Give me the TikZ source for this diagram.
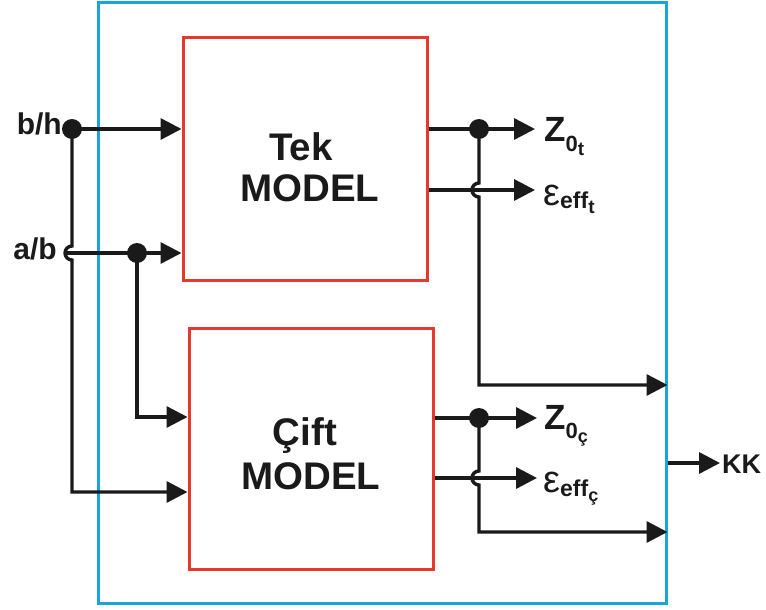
\documentclass[tikz,border=0pt]{standalone}
\usepackage{fontspec}
\setmainfont{Liberation Sans}
\usetikzlibrary{arrows.meta}
\definecolor{boxred}{HTML}{E4392C}
\definecolor{boxblue}{HTML}{1BA3DA}
\definecolor{ink}{HTML}{1A1A1A}
\begin{document}
\begin{tikzpicture}[x=1pt,y=-1pt,
  wire/.style={draw=ink,line width=3.4pt},
  arr/.style={wire,-{Triangle[length=21pt,width=21pt]}},
  dot/.style={circle,fill=ink,minimum size=20pt,inner sep=0pt},
  redbox/.style={draw=boxred,line width=3pt,inner sep=0pt},
  bluebox/.style={draw=boxblue,line width=3pt,inner sep=0pt},
  lab/.style={inner sep=0pt,font=\bfseries,text=ink},
  big/.style={lab,font=\fontsize{38.5}{38.5}\selectfont\bfseries}]
\useasboundingbox (0,0) rectangle (766,610);
% frames
\node[bluebox,minimum width=568pt,minimum height=600pt] (blue) at (382,303) {};
\node[redbox,minimum width=244pt,minimum height=242pt] (tek) at (305,159) {};
\node[redbox,minimum width=244pt,minimum height=241pt] (cift) at (311,448.5) {};
% box texts
\node[big,anchor=base] (tek1) at (301,160) {Tek};
\node[big,anchor=base] (tek2) at (310,201) {MODEL};
\node[big,anchor=base] (cift1) at (305,445) {Çift};
\node[big,anchor=base] (cift2) at (311,489) {MODEL};
% input labels
\node[lab,anchor=base east,font=\fontsize{30}{30}\selectfont\bfseries] (bh) at (62,134) {b/h};
\node[lab,anchor=base east,font=\fontsize{30}{30}\selectfont\bfseries] (ab) at (57,259) {a/b};
% dots
\node[dot] (d1) at (72,129) {};
\node[dot] (d2) at (137,253) {};
\node[dot] (d3) at (479,129) {};
\node[dot] (d4) at (479,418) {};
\coordinate (abstart) at (64,253);
% inputs
\draw[arr] (d1.center) -- (tek.west |- d1);
\draw[arr] (abstart) -- (tek.west |- abstart);
\draw[arr] (d1.center) -- (72,246) arc[start angle=270,end angle=90,radius=7] -- (72,492) -- (cift.west |- 0,492);
\draw[arr] (d2.center) -- (137,417) -- (cift.west |- 0,417);
% Tek outputs
\node[lab,anchor=base west] (zt) at (544,141) {\fontsize{35}{35}\selectfont Z\raisebox{-10pt}{\fontsize{22}{22}\selectfont 0\raisebox{-4pt}{\fontsize{19}{19}\selectfont t}}};
\node[lab,anchor=base west] (et) at (543,205) {\fontsize{38}{38}\selectfont\mdseries ε\raisebox{-3pt}{\fontsize{23}{23}\selectfont\bfseries eff\raisebox{-5pt}{\fontsize{19}{19}\selectfont t}}};
\coordinate (zte) at (535,129);
\coordinate (ete) at (535,190);
\draw[arr] (tek.east |- d3) -- (zte);
\draw[arr] (tek.east |- ete) -- (ete);
\draw[arr] (d3.center) -- (479,183) arc[start angle=270,end angle=90,radius=7] -- (479,385) -- (blue.east |- 0,385);
% Cift outputs
\node[lab,anchor=base west] (zc) at (544,429) {\fontsize{35}{35}\selectfont Z\raisebox{-9pt}{\fontsize{22}{22}\selectfont 0\raisebox{-4pt}{\fontsize{18}{18}\selectfont ç}}};
\node[lab,anchor=base west] (ec) at (543,492) {\fontsize{38}{38}\selectfont\mdseries ε\raisebox{-4pt}{\fontsize{23}{23}\selectfont\bfseries eff\raisebox{-5pt}{\fontsize{18}{18}\selectfont ç}}};
\coordinate (zce) at (537,418);
\coordinate (ece) at (537,478);
\draw[arr] (cift.east |- d4) -- (zce);
\draw[arr] (cift.east |- ece) -- (ece);
\draw[arr] (d4.center) -- (479,471) arc[start angle=270,end angle=90,radius=7] -- (479,532) -- (blue.east |- 0,532);
% KK
\node[lab,anchor=base west,font=\fontsize{27}{27}\selectfont\bfseries] (kk) at (722,473) {KK};
\coordinate (kke) at (720,463);
\draw[arr] (blue.east |- kke) -- (kke);
\end{tikzpicture}
\end{document}
